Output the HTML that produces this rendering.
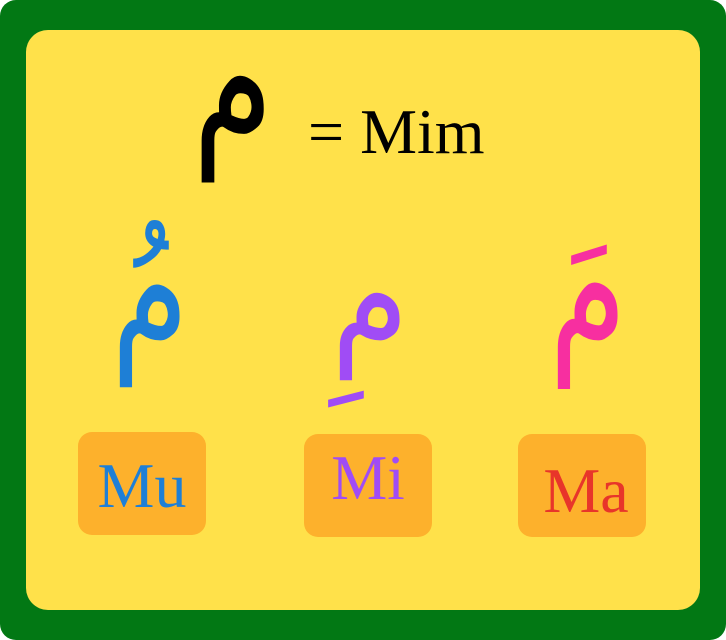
<!DOCTYPE html>
<html><head><meta charset="utf-8"><style>
html,body{margin:0;padding:0;}
body{width:726px;height:640px;position:relative;overflow:hidden;background:#fff;}
.outer{position:absolute;left:0;top:0;width:726px;height:640px;background:#027814;border-radius:16px;}
.inner{position:absolute;left:26px;top:30px;width:674px;height:580px;background:#ffe14a;border-radius:22px;}
.ar{position:absolute;font-family:"DejaVu Sans",sans-serif;line-height:1;text-align:center;transform-origin:50% 0;}
.lbl{position:absolute;font-family:"Liberation Serif",serif;line-height:1;}
.box{position:absolute;width:128px;height:103px;background:#fdb12c;border-radius:14px;}
.box span{position:absolute;left:0;right:0;text-align:center;font-family:"Liberation Serif",serif;line-height:1;}
</style></head><body>
<div class="outer"></div>
<div class="inner"></div>
<div class="ar" style="left:173px;top:-8px;width:120px;font-size:130px;color:#000;transform:scaleY(1.35);">م</div>
<div class="lbl" style="left:308px;top:100px;font-size:64px;color:#000;">= Mim</div>
<div class="ar" style="left:90px;top:205px;width:120px;font-size:125px;color:#1e7fd6;transform:scaleY(1.35);">مُ</div>
<div class="ar" style="left:310px;top:225px;width:120px;font-size:125px;color:#a04cf5;transform:scaleY(1.15);">مِ</div>
<div class="ar" style="left:528px;top:200px;width:120px;font-size:125px;color:#f72fa0;transform:scaleY(1.4);">مَ</div>
<div class="box" style="left:78px;top:432px;"><span style="top:22px;font-size:64px;color:#1e7fd6;">Mu</span></div>
<div class="box" style="left:304px;top:434px;"><span style="top:13px;font-size:63px;color:#a04cf5;">Mi</span></div>
<div class="box" style="left:518px;top:434px;"><span style="top:25px;left:8px;font-size:64px;color:#e8352a;">Ma</span></div>
</body></html>
